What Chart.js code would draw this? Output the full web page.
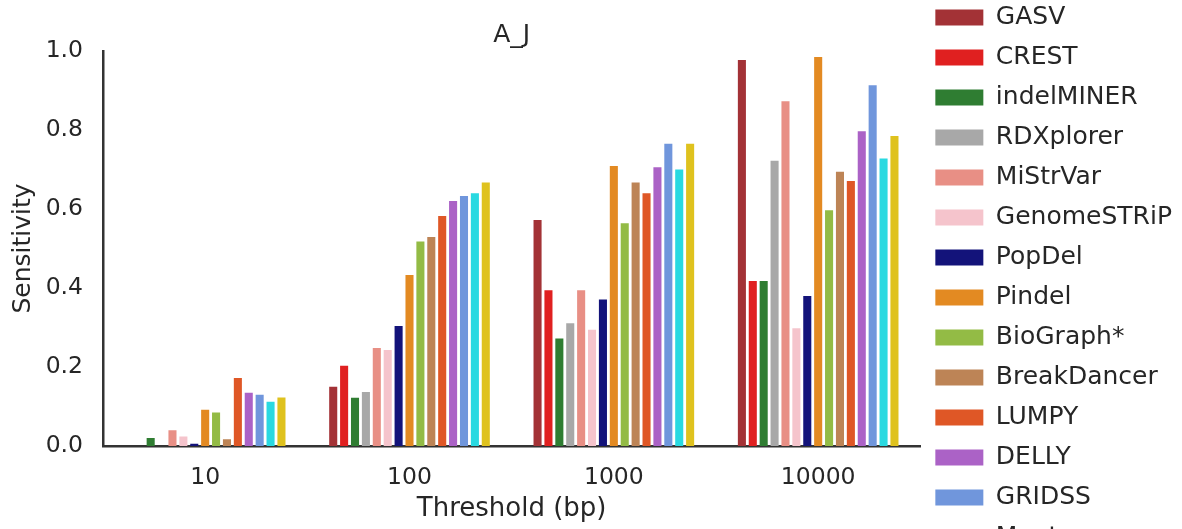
<!DOCTYPE html>
<html>
<head>
<meta charset="utf-8">
<script src="https://cdn.jsdelivr.net/npm/chart.js@4/dist/chart.umd.min.js"></script>
<style>
    html, body { margin: 0; padding: 0; background: #fff; overflow: hidden; }
    #wrap { position: absolute; left: 0; top: -10px; width: 1182px; height: 660px; }
</style>
</head>
<body>
<div id="wrap"><canvas id="svChart"></canvas></div>
<script>
// Deletion sensitivity per size threshold, strain A_J
const thresholds = ['10', '100', '1000', '10000'];

const tools = ['GASV', 'CREST', 'indelMINER', 'RDXplorer', 'MiStrVar', 'GenomeSTRiP', 'PopDel',
    'Pindel', 'BioGraph*', 'BreakDancer', 'LUMPY', 'DELLY', 'GRIDSS', 'Manta', 'CLEVER'];

const gasv        = [0.000, 0.150, 0.572, 0.977];
const crest       = [0.000, 0.203, 0.394, 0.418];
const indelminer  = [0.020, 0.122, 0.272, 0.418];
const rdxplorer   = [0.000, 0.137, 0.311, 0.722];
const mistrvar    = [0.040, 0.248, 0.394, 0.873];
const genomestrip = [0.024, 0.243, 0.294, 0.298];
const popdel      = [0.006, 0.304, 0.371, 0.380];
const pindel      = [0.092, 0.433, 0.709, 0.985];
const biograph    = [0.085, 0.518, 0.564, 0.597];
const breakdancer = [0.017, 0.529, 0.667, 0.694];
const lumpy       = [0.172, 0.582, 0.640, 0.671];
const delly       = [0.135, 0.620, 0.706, 0.797];
const gridss      = [0.130, 0.633, 0.765, 0.913];
const manta       = [0.112, 0.640, 0.700, 0.728];
const clever      = [0.123, 0.667, 0.765, 0.785];

const series = [gasv, crest, indelminer, rdxplorer, mistrvar, genomestrip, popdel,
    pindel, biograph, breakdancer, lumpy, delly, gridss, manta, clever];

const colors = ['#a33236', '#e02020', '#2f7d32', '#a8a8a8', '#e88f85', '#f5c4cc', '#13137a',
    '#e38a22', '#93bb45', '#bd8456', '#df5726', '#ab62c6', '#7096dc', '#29d9e1', '#dfc21e'];

const textColor = '#262626';
const tickFont = { family: 'DejaVu Sans', size: 23.5 };
const labelFont = { family: 'DejaVu Sans', size: 25 };

const ctx = document.getElementById('svChart').getContext('2d');
new Chart(ctx, {
    type: 'bar',
    data: {
        labels: thresholds,
        datasets: tools.map((name, i) => ({
            label: name,
            data: series[i],
            backgroundColor: colors[i],
            borderWidth: 0,
            categoryPercentage: 0.8,
            barPercentage: 0.74
        }))
    },
    options: {
        responsive: true,
        maintainAspectRatio: false,
        animation: false,
        layout: { padding: 0 },
        plugins: {
            title: {
                display: true,
                fullSize: false,
                text: 'A_J',
                color: textColor,
                font: { family: 'DejaVu Sans', size: 25, weight: 'normal' },
                padding: { top: 30, bottom: 1 }
            },
            legend: {
                position: 'right',
                align: 'start',
                labels: {
                    color: textColor,
                    font: labelFont,
                    boxWidth: 48,
                    boxHeight: 16,
                    padding: 15
                }
            },
            tooltip: { enabled: false }
        },
        scales: {
            x: {
                grid: { display: false, drawTicks: false },
                border: { display: true, color: '#333', width: 2.5 },
                ticks: { color: textColor, font: tickFont, padding: 18 },
                title: {
                    display: true,
                    text: 'Threshold (bp)',
                    color: textColor,
                    font: { family: 'DejaVu Sans', size: 26 },
                    padding: { top: 0, bottom: 125 }
                },
                afterFit: scale => { scale.height = 204; }
            },
            y: {
                min: 0,
                max: 1,
                grid: { display: false, drawTicks: false },
                border: { display: true, color: '#333', width: 2.5 },
                ticks: {
                    stepSize: 0.2,
                    color: textColor,
                    font: tickFont,
                    padding: 20,
                    callback: v => v.toFixed(1)
                },
                title: {
                    display: true,
                    text: 'Sensitivity',
                    color: textColor,
                    font: labelFont,
                    padding: { top: 8, bottom: 0 }
                },
                afterFit: scale => { scale.width = 103; }
            }
        }
    }
});
</script>
</body>
</html>
